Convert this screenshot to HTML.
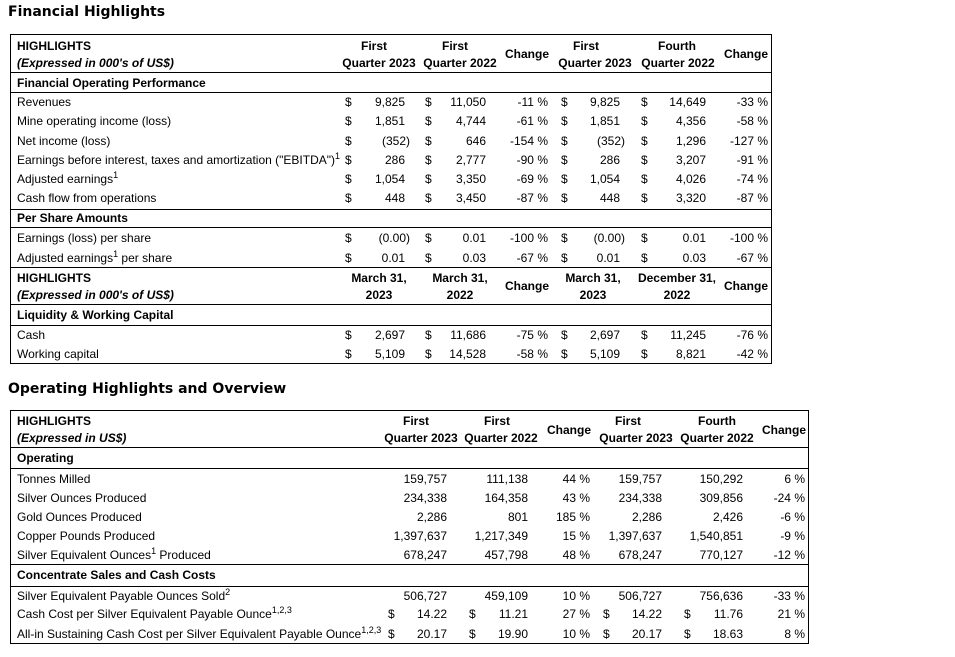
<!DOCTYPE html>
<html><head><meta charset="utf-8"><style>
body{margin:0;width:955px;height:657px;background:#fff;position:relative;font-family:"Liberation Sans",Arial,sans-serif;font-size:12px;color:#000;overflow:hidden}
div{position:absolute;white-space:nowrap;line-height:14px}
.t{font-family:"DejaVu Sans",sans-serif;font-weight:bold;font-size:14px;left:8px}
.b{font-weight:bold}.i{font-style:italic;font-weight:bold}
.h{height:1px;background:#000}
.v{width:1px;background:#000}
.c{text-align:center;width:100px}
sup{font-size:9px;vertical-align:5px;line-height:0}
</style></head><body>
<div class="t" style="top:5px">Financial Highlights</div>
<div class="t" style="top:382px">Operating Highlights and Overview</div>

<!-- table 1 borders -->
<div class="h" style="left:10px;width:762px;top:34px"></div>
<div class="h" style="left:10px;width:762px;top:72px"></div>
<div class="h" style="left:10px;width:762px;top:92px"></div>
<div class="h" style="left:10px;width:762px;top:209px"></div>
<div class="h" style="left:10px;width:762px;top:227px"></div>
<div class="h" style="left:10px;width:762px;top:267px"></div>
<div class="h" style="left:10px;width:762px;top:304px"></div>
<div class="h" style="left:10px;width:762px;top:325px"></div>
<div class="h" style="left:10px;width:762px;top:363px"></div>
<div class="v" style="left:10px;top:34px;height:330px"></div>
<div class="v" style="left:771px;top:34px;height:330px"></div>

<div class="b" style="left:17px;top:39px">HIGHLIGHTS</div>
<div class="i" style="left:17px;top:56px">(Expressed in 000's of US$)</div>
<div class="b c" style="left:324px;top:39px">First</div><div class="b c" style="left:329px;top:56px">Quarter 2023</div>
<div class="b c" style="left:405px;top:39px">First</div><div class="b c" style="left:410px;top:56px">Quarter 2022</div>
<div class="b c" style="left:477px;top:47px">Change</div>
<div class="b c" style="left:536px;top:39px">First</div><div class="b c" style="left:545px;top:56px">Quarter 2023</div>
<div class="b c" style="left:627px;top:39px">Fourth</div><div class="b c" style="left:628px;top:56px">Quarter 2022</div>
<div class="b c" style="left:696px;top:47px">Change</div>
<div class="b" style="left:17px;top:76px">Financial Operating Performance</div>

<div style="left:17px;top:95px">Revenues</div>
<div style="left:17px;top:114px">Mine operating income (loss)</div>
<div style="left:17px;top:134px">Net income (loss)</div>
<div style="left:17px;top:153px">Earnings before interest, taxes and amortization ("EBITDA")<sup>1</sup></div>
<div style="left:17px;top:172px">Adjusted earnings<sup>1</sup></div>
<div style="left:17px;top:191px">Cash flow from operations</div>
<div class="b" style="left:17px;top:211px">Per Share Amounts</div>
<div style="left:17px;top:231px">Earnings (loss) per share</div>
<div style="left:17px;top:251px">Adjusted earnings<sup>1</sup> per share</div>
<div class="b" style="left:17px;top:271px">HIGHLIGHTS</div>
<div class="i" style="left:17px;top:288px">(Expressed in 000's of US$)</div>
<div class="b c" style="left:329px;top:271px">March 31,</div><div class="b c" style="left:329px;top:288px">2023</div>
<div class="b c" style="left:410px;top:271px">March 31,</div><div class="b c" style="left:410px;top:288px">2022</div>
<div class="b c" style="left:477px;top:279px">Change</div>
<div class="b c" style="left:543px;top:271px">March 31,</div><div class="b c" style="left:543px;top:288px">2023</div>
<div class="b c" style="left:627px;top:271px">December 31,</div><div class="b c" style="left:627px;top:288px">2022</div>
<div class="b c" style="left:696px;top:279px">Change</div>
<div class="b" style="left:17px;top:308px">Liquidity &amp; Working Capital</div>
<div style="left:17px;top:328px">Cash</div>
<div style="left:17px;top:347px">Working capital</div>

<!-- table1 numbers -->
<div style="left:345px;top:95px">$</div><div style="right:550px;top:95px">9,825</div><div style="left:425px;top:95px">$</div><div style="right:469px;top:95px">11,050</div><div style="right:407px;top:95px">-11 %</div><div style="left:561px;top:95px">$</div><div style="right:335px;top:95px">9,825</div><div style="left:641px;top:95px">$</div><div style="right:249px;top:95px">14,649</div><div style="right:187px;top:95px">-33 %</div>
<div style="left:345px;top:114px">$</div><div style="right:550px;top:114px">1,851</div><div style="left:425px;top:114px">$</div><div style="right:469px;top:114px">4,744</div><div style="right:407px;top:114px">-61 %</div><div style="left:561px;top:114px">$</div><div style="right:335px;top:114px">1,851</div><div style="left:641px;top:114px">$</div><div style="right:249px;top:114px">4,356</div><div style="right:187px;top:114px">-58 %</div>
<div style="left:345px;top:134px">$</div><div style="right:545px;top:134px">(352)</div><div style="left:425px;top:134px">$</div><div style="right:469px;top:134px">646</div><div style="right:407px;top:134px">-154 %</div><div style="left:561px;top:134px">$</div><div style="right:330px;top:134px">(352)</div><div style="left:641px;top:134px">$</div><div style="right:249px;top:134px">1,296</div><div style="right:187px;top:134px">-127 %</div>
<div style="left:345px;top:153px">$</div><div style="right:550px;top:153px">286</div><div style="left:425px;top:153px">$</div><div style="right:469px;top:153px">2,777</div><div style="right:407px;top:153px">-90 %</div><div style="left:561px;top:153px">$</div><div style="right:335px;top:153px">286</div><div style="left:641px;top:153px">$</div><div style="right:249px;top:153px">3,207</div><div style="right:187px;top:153px">-91 %</div>
<div style="left:345px;top:172px">$</div><div style="right:550px;top:172px">1,054</div><div style="left:425px;top:172px">$</div><div style="right:469px;top:172px">3,350</div><div style="right:407px;top:172px">-69 %</div><div style="left:561px;top:172px">$</div><div style="right:335px;top:172px">1,054</div><div style="left:641px;top:172px">$</div><div style="right:249px;top:172px">4,026</div><div style="right:187px;top:172px">-74 %</div>
<div style="left:345px;top:191px">$</div><div style="right:550px;top:191px">448</div><div style="left:425px;top:191px">$</div><div style="right:469px;top:191px">3,450</div><div style="right:407px;top:191px">-87 %</div><div style="left:561px;top:191px">$</div><div style="right:335px;top:191px">448</div><div style="left:641px;top:191px">$</div><div style="right:249px;top:191px">3,320</div><div style="right:187px;top:191px">-87 %</div>
<div style="left:345px;top:231px">$</div><div style="right:545px;top:231px">(0.00)</div><div style="left:425px;top:231px">$</div><div style="right:469px;top:231px">0.01</div><div style="right:407px;top:231px">-100 %</div><div style="left:561px;top:231px">$</div><div style="right:330px;top:231px">(0.00)</div><div style="left:641px;top:231px">$</div><div style="right:249px;top:231px">0.01</div><div style="right:187px;top:231px">-100 %</div>
<div style="left:345px;top:251px">$</div><div style="right:550px;top:251px">0.01</div><div style="left:425px;top:251px">$</div><div style="right:469px;top:251px">0.03</div><div style="right:407px;top:251px">-67 %</div><div style="left:561px;top:251px">$</div><div style="right:335px;top:251px">0.01</div><div style="left:641px;top:251px">$</div><div style="right:249px;top:251px">0.03</div><div style="right:187px;top:251px">-67 %</div>
<div style="left:345px;top:328px">$</div><div style="right:550px;top:328px">2,697</div><div style="left:425px;top:328px">$</div><div style="right:469px;top:328px">11,686</div><div style="right:407px;top:328px">-75 %</div><div style="left:561px;top:328px">$</div><div style="right:335px;top:328px">2,697</div><div style="left:641px;top:328px">$</div><div style="right:249px;top:328px">11,245</div><div style="right:187px;top:328px">-76 %</div>
<div style="left:345px;top:347px">$</div><div style="right:550px;top:347px">5,109</div><div style="left:425px;top:347px">$</div><div style="right:469px;top:347px">14,528</div><div style="right:407px;top:347px">-58 %</div><div style="left:561px;top:347px">$</div><div style="right:335px;top:347px">5,109</div><div style="left:641px;top:347px">$</div><div style="right:249px;top:347px">8,821</div><div style="right:187px;top:347px">-42 %</div>

<!-- table 2 -->
<div class="h" style="left:10px;width:799px;top:410px"></div>
<div class="h" style="left:10px;width:799px;top:447px"></div>
<div class="h" style="left:10px;width:799px;top:468px"></div>
<div class="h" style="left:10px;width:799px;top:564px"></div>
<div class="h" style="left:10px;width:799px;top:586px"></div>
<div class="h" style="left:10px;width:799px;top:643px"></div>
<div class="v" style="left:10px;top:410px;height:234px"></div>
<div class="v" style="left:808px;top:410px;height:234px"></div>

<div class="b" style="left:17px;top:414px">HIGHLIGHTS</div>
<div class="i" style="left:17px;top:431px">(Expressed in US$)</div>
<div class="b c" style="left:366px;top:414px">First</div><div class="b c" style="left:371px;top:431px">Quarter 2023</div>
<div class="b c" style="left:447px;top:414px">First</div><div class="b c" style="left:451px;top:431px">Quarter 2022</div>
<div class="b c" style="left:519px;top:423px">Change</div>
<div class="b c" style="left:578px;top:414px">First</div><div class="b c" style="left:586px;top:431px">Quarter 2023</div>
<div class="b c" style="left:667px;top:414px">Fourth</div><div class="b c" style="left:667px;top:431px">Quarter 2022</div>
<div class="b c" style="left:734px;top:423px">Change</div>
<div class="b" style="left:17px;top:451px">Operating</div>
<div style="left:17px;top:472px">Tonnes Milled</div>
<div style="left:17px;top:491px">Silver Ounces Produced</div>
<div style="left:17px;top:510px">Gold Ounces Produced</div>
<div style="left:17px;top:529px">Copper Pounds Produced</div>
<div style="left:17px;top:548px">Silver Equivalent Ounces<sup>1</sup> Produced</div>
<div class="b" style="left:17px;top:568px">Concentrate Sales and Cash Costs</div>
<div style="left:17px;top:589px">Silver Equivalent Payable Ounces Sold<sup>2</sup></div>
<div style="left:17px;top:607px">Cash Cost per Silver Equivalent Payable Ounce<sup>1,2,3</sup></div>
<div style="left:17px;top:627px">All-in Sustaining Cash Cost per Silver Equivalent Payable Ounce<sup>1,2,3</sup></div>

<div style="right:508px;top:472px">159,757</div><div style="right:427px;top:472px">111,138</div><div style="right:365px;top:472px">44 %</div><div style="right:293px;top:472px">159,757</div><div style="right:212px;top:472px">150,292</div><div style="right:150px;top:472px">6 %</div>
<div style="right:508px;top:491px">234,338</div><div style="right:427px;top:491px">164,358</div><div style="right:365px;top:491px">43 %</div><div style="right:293px;top:491px">234,338</div><div style="right:212px;top:491px">309,856</div><div style="right:150px;top:491px">-24 %</div>
<div style="right:508px;top:510px">2,286</div><div style="right:427px;top:510px">801</div><div style="right:365px;top:510px">185 %</div><div style="right:293px;top:510px">2,286</div><div style="right:212px;top:510px">2,426</div><div style="right:150px;top:510px">-6 %</div>
<div style="right:508px;top:529px">1,397,637</div><div style="right:427px;top:529px">1,217,349</div><div style="right:365px;top:529px">15 %</div><div style="right:293px;top:529px">1,397,637</div><div style="right:212px;top:529px">1,540,851</div><div style="right:150px;top:529px">-9 %</div>
<div style="right:508px;top:548px">678,247</div><div style="right:427px;top:548px">457,798</div><div style="right:365px;top:548px">48 %</div><div style="right:293px;top:548px">678,247</div><div style="right:212px;top:548px">770,127</div><div style="right:150px;top:548px">-12 %</div>
<div style="right:508px;top:589px">506,727</div><div style="right:427px;top:589px">459,109</div><div style="right:365px;top:589px">10 %</div><div style="right:293px;top:589px">506,727</div><div style="right:212px;top:589px">756,636</div><div style="right:150px;top:589px">-33 %</div>
<div style="left:388px;top:607px">$</div><div style="right:508px;top:607px">14.22</div><div style="left:469px;top:607px">$</div><div style="right:427px;top:607px">11.21</div><div style="right:365px;top:607px">27 %</div><div style="left:603px;top:607px">$</div><div style="right:293px;top:607px">14.22</div><div style="left:684px;top:607px">$</div><div style="right:212px;top:607px">11.76</div><div style="right:150px;top:607px">21 %</div>
<div style="left:388px;top:627px">$</div><div style="right:508px;top:627px">20.17</div><div style="left:469px;top:627px">$</div><div style="right:427px;top:627px">19.90</div><div style="right:365px;top:627px">10 %</div><div style="left:603px;top:627px">$</div><div style="right:293px;top:627px">20.17</div><div style="left:684px;top:627px">$</div><div style="right:212px;top:627px">18.63</div><div style="right:150px;top:627px">8 %</div>
</body></html>
